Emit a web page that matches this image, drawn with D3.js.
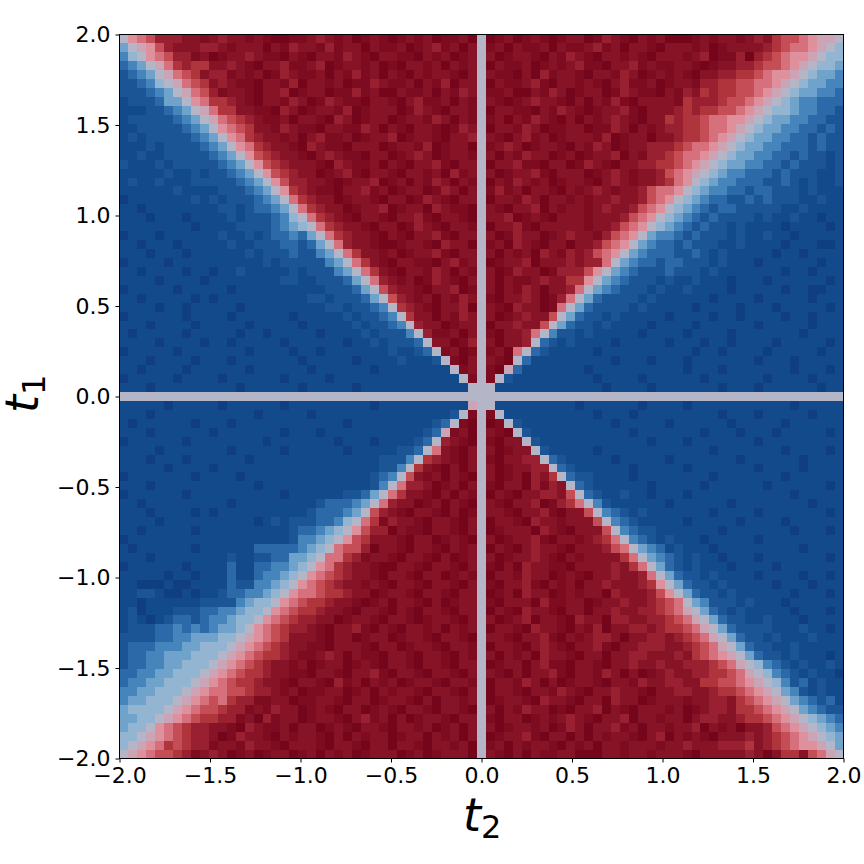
<!DOCTYPE html>
<html>
<head>
<meta charset="utf-8">
<script src="https://cdn.jsdelivr.net/npm/d3@7"></script>
<style>
  html, body { margin: 0; padding: 0; background: #fff; }
  text { font-family: "DejaVu Sans", sans-serif; fill: #000; }
</style>
</head>
<body>
<svg id="chart" width="864" height="864"></svg>
<script>
// colour levels, blue to grey to red
const levelChars = 'abcdefghijklmnopq';
const levelValues = d3.range(-8, 9);
const levelColors = ['#0f3f80', '#134a8c', '#1b5596', '#2b69a9', '#4585bc', '#6fa3cc', '#93b5d2', '#b4b5c6',
  '#cba5b5', '#df909d', '#d6707c', '#c44d56', '#b0343c', '#982030', '#861326', '#7d0c21', '#74051a'];

const tickValues = [-2, -1.5, -1, -0.5, 0, 0.5, 1, 1.5, 2];

// heatmap cells, top row first, one letter per cell
const cellRows = [
'hjklnnnoop onoopopqqp ponopoqpop qpopoqppoq h qpoqpopqpo oqpnopqopo qqqpopoopo nomllkjiih',
'fhijlnooon nopoooqopn oopnpooqop poqponpoqo h poqoppoqop ponpoqoopq ooopoqpooo onmlkkjihg',
'eghjklnnpo qpoonoppqo pqoopnopqo oppqopoqpo h oqpoopqopn opqoopopqo ooponqppnq nmlkjjihgg',
'defhikmnmm oonopqoonp ponqpoopoq pqoopoqopo h qoppoqpopo nppqoonpop poopqpoonn mllkjihggf',
'cdefhiklmo nnpopoqpno ppoqopnpoq opqopoopqo h oppqoqnpoo pqoopnoqpo popqoonnmm lkjjihgffe',
'ccdeghiklm onoppqoopn qoopoqppno ppoqopnqoo h qopponpqoo popqonppoq poopnnmmll kkjihgffee',
'cccdefhikl npoopqoonq pooqppnpoq qoppoqopno h ppoqqopnoq pooqpnoppq opnomnmmll kjihgffeed',
'bcccdffhjk mmnopqoopn oqpnoppqoo pqonppoqop h opqponoopq oqopnpqooo opmnnnmllk jihgfeeddd',
'bbbccdefhi kmmooppqno qpoopnqpoo oqpnopqoop h qooppqopno pqpoonpqoo onmnmmllkj ihggfeeddc',
'bcccccdefh iklmnoppoq oopqnoqpoo qpoopnoqop h poqopnopqo qoponopqoo mnmmlkkjji hgffeeddcc',
'bbcccccdef hjklmoopno ppqooppnoq opqoopqpno h qoopnoqppo oqppnoqopo nnmmlkkjih gffeeddcdc',
'bcbcccccde fhjkmnoopo qonppoqpoo nqpoopqoon h opqonpoqpo oopnqpooqo onmmlkjihg ffeeddcdcc',
'bbbcbccccd efhjkmnoop qnoppqoooq poopnqpooq h ponoqpoopq opnoqpoonn nmlkkjihgf feedddcdcc',
'bbcbbccccc defhjlmnoo pqonoppqoo qponoqpoop h oqopnooqpo qpoonqopnn mlkkjihgff eeddcdccbc',
'cbbbcbcccc cdefhjlmno oopqnoppoq opqoonpqoo h qoonppqooq pnopqoonnm mlkjihgffe eddcdcccbc',
'bbbbbcbbcb ccdefhjlmn ooqponpqoo pqoopoqnpo h oqpoonpqoo oqponopoon lkjihgfeed ddcdcccbbc',
'bcbbcbbbcc cccdefhjln noopqpoonq poqopnoqop h qopnopoqpo opqonopoon mkjhgfeedd dccdcbcbbc',
'bbbbbbcbbb bcccdefhjm noppqoonpo qpooqpnoqo h pnpoqoopqo ponopoonlk kjhgfeeddc ddcccbcbbb',
'abbbbbbbcb cbcccdefhk mnooqpoopq ooqpnopqoo h qoopnoqoop opoonoonlk jhgfeddccd cdcccbbcbb',
'bbabbbbbbb bccbcddefh kmnooqpoon qpooqnoppq h opqoonqopo oponoonlkj hgfedcddcc cccbbcbbbb',
'bbbabbbabb bbcbcccdeg hkmnopqoop qoonpqoopq h oonqpopqoo opooonlkjh gfedcdcccc bcbbcbbabb',
'bbbbbbbbab bbbccccdef ghkmnoopqo oqpnopqoop h qoonpqoooo opoonlkjhg fedcdccbcb bbbabbbbab',
'abbbabbbbb bcbbcbcdde dfhkmnoopq opqoonpqoo h oqpnooqpon oopnlkjhfe edcdcccbcb bcbbabbbbb',
'bbabbbabbb bbcbbcccdd cdfhknoopq qpoopqnooq h poqnopqooq oonlkjhfed dcdcccbbcb bbbabbbaab',
'bbbabbbabb bbbbcbcccd ccefhkmoop oqpoonpqoo h oqopoqnopn onlkjhfedd dccdcbcbbb bbabbabbbb',
'abbbbabbbb bbbbbbcbcc cccefhkmop qooppqonpo h qpoonqooon onnkhfeddc ddcccbcbbb abbbbbbabb',
'bbabbbbabb abbcbbbbbc bcccefhkmo pqoopnoqop h oqpnooqpnn nljhfedccc dcccbcbbbb bbbabbabbb',
'bbbbabbbba bbbbbbbbcc bbcccdfhkn opoqpnopqo h oqopponoom mjhfedcccb cbbcbbbabb babbbbbbab',
'abbbbbabbb bbabbbbbbb bbbcccdfhl noopqoonqp h oqopnoqoon khfedcccbc bbcbbbbabb bbbabbaabb',
'bbabbbbbab abbbbbbbbb bccbcccdfh lnopoqopno h pqoonoqpnk hfdccccbcb bbbbbabbbb abbbbbabbb',
'bbbbabbabb bbbabbbbbb bbbccbccde hmnopqoonq h opqnooqpkh fdccccbcbb bbbabbbbab bbabbbbbab',
'abbbbbbabb bbabbbbbba bbbbbcbccd ehmooqopno h oqponoolhf dccbcbbbbb abbbbabbab bbbabbabbb',
'bbbabbbbab bbbbabbbbb abbbbbcbcc dehnooqpoo h qoonoolhfd ccbcbbbbab bbbabbbbbb abbbbbabbb',
'babbbbbabb bbbabbabbb bbabbbbcbc ccehnppoqo h pqoonkhecc bcbbbbbabb bbabbbbabb bbbbbabbbb',
'bbbbabbbba bbabbbbbab bbbbbabbcb cccdhooqpn h oqoonhdcbc bbbbabbbbb abbbabbabb bbabbbbbab',
'abbbbbabbb bbbbabbbba bbabbbbbbb cbbcdhpoqp h poqkhdcbbb bbabbbbbbb bbbabbabbb babbbbbabb',
'bbbabbbbab bbabbbbbbb abbbbbabbb bcbbbchpqo h opqhdbbbbb bbbbabbbab bbabbbbbbb abbbabbbbb',
'bbabbbbabb bbbbabbbbb babbbbbbab bbbbbbbhpo h pqidbbbbbb babbbbbbbb bbabbbabbb bbbbabbbab',
'abbbbbabbb babbbbbbab bbbabbbbbb bbbbbbbbhp h phcbbbbbbb bbabbbbabb bbbbabbbbb babbbbabbb',
'bbbabbbbbb bbbabbbbbb abbbbbabbb bbbbbbbbbh h hbbbbbbbbb bbbabbbbab bbbbbbabbb abbbbbbabb',
'hhhhhhhhhh hhhhhhhhhh hhhhhhhhhh hhhhhhhhhh h hhhhhhhhhh hhhhhhhhhh hhhhhhhhhh hhhhhhhhhh',
'bbbbbabbbb babbbbbbab bbbbbbbbab bbbbbbbbbi h hbbbbbbbbb abbbbbbabb bbabbbbbbb bbbbabbbbb',
'bbbabbbbbb bbbbbabbbb babbbbbbbb bbbbbbbchp h phbbbbbbbb bbabbbabbb bbbbbbabbb abbbbbabbb',
'babbbbbbab bbabbbbbbb bbbbbabbbb bbbbbcdhpq h qphcbbbbbb bbbbabbbbb abbbbbbabb bbbabbbbbb',
'bbbabbbbbb abbbbbbbab bbabbbbbbb bbbbcdipoq h opqhcbbbbb bbbbbbabbb bbbbabbbab bbabbbbbab',
'abbbbbbabb bbbbbbabbb bbbbabbbab bbbcdhnopq h pqoohcbbbb bbbbbbbbab bbabbbbbbb abbbbbbbbb',
'bbbbabbbbb bbabbbbbab bbbbbabbbb bccdhkopqo h oqpoohcbbb bbabbbbbbb bbbbbabbbb bbbabbbbab',
'bbbabbbabb bbbbabbbbb bbbbbbbbbc ccehmnopqo h pqoonnhdcb bbbbabbbbb abbbbbbbab bbbbbabbbb',
'bbbbbabbbb abbbbbbbbb bbbbbbbbbc cehmopqoqo h oqpoonnhdc bbbbbbabbb bbabbbbbbb abbbbabbbb',
'abbbbbbbab bbbabbbbbb bbbbbbbbcd ehlopoqopq h oqpoqnomhd ccbbbbabbb bbbbbabbbb bbbabbbbbb',
'bbbabbbbbb bbbbbabbbb bbbbbbbbce hknnoqpoqo h pqooqnpnoh dcbbbbbbab bbbbabbbbb babbbbbbab',
'abbbbbbabb bbbbbbbbab bbbbbccdfh kmoopqoqop h qopqoonnol hdcbbcbbab bbabbbbbbb bbbbabbbbb',
'bbabbbbbbb bbabbbbbbb bbcdddefhk nooqpoqopq h opqoonqpnm khecbbbbbb abbbbbbabb bbbbbbabbb',
'bbbabbbbab abbbbbbbbb bcdddefhln opqoopqoqp h oopqoonpqo olhedcbcbb bbbbbabbbb abbbbbbbab',
'bbbbabbbbb bbbbbabcbc ccddeghkmp noopqoopqo h qoopqnoopo oolhedcbbb bbabbbbbab bbbabbbbbb',
'bbabbbbbab bbbbbbbbbc ddefghjlnn qoppqoopqo h qpoooqnopq ooolhedccb bbbbbbabbb bbbbabbbab',
'abbbbbbbbb bbbbbbbbbc eefghjlmoo opqooqpopq h oqpoonpqoo ponmkhedcb cbbbabbbbb abbbbbbbbb',
'babbbbbbab bbbbbddddd efghkllnqo opqoopqopo h qopqonoopq ooonlkhfed bcbbbabbbb bbbbbabbbb',
'bbbabbbbbb bbcbbccddf fghkkmnpoo pqoopqoqpo h oqpoonopqo poooomkhfe dcbcbbabbb abbbbbbbab',
'abbbbbbabb bbdbbddeef ghjkmnoopq qoopqoopqo h pqoqnooppq oooonomkhf dcbcbbbabb bbabbbbbbb',
'bbbbbabbab bbdbbdeefg hjklmnoopq oopqooqpop h qoopnooqpo pqoonoonkh fdccbcbbbb abbbbabbab',
'bbaaabaabb bbdcceefgh jklmnoopop qoopqoopqo h pqoonpqopo qoonooonmj hfdccbcbbb bbabbbabbb',
'bbccbaabab bcddeefghj kklmmnooqp oopqoopqoo h qpoqnooqpo pooqnooonl jhfdccbcbb bbbbabbbab',
'bbabbbbbbc cccefgghjk lmmnoopqpo qoopqoqpoo h pqoooqnppo oqpoonoonm lkhfecccbc bbbabbbbbb',
'bcabbbcccd deefgghjkl mmnoopqoop qopqoopqoo h qopqnoopqo oqoonoonnm lkihfdcbcb bbbbabbbab',
'bcbabcddcd eefgghjklm nnooqpoopq oopqpoopqo h oqponqoopq nooqnnoonn mlkihfdccb bcbbbabbbb',
'bcccddeded effghjklmn nopqoonpqo pqoopoqopo h qoopqnoopq opnqoonnon mmlkihfdcc ccbbbcbbab',
'ccccddeeff fgghijklmo oopqooqpoo qpoopqoopq h oopqoonpqo ponnoqoonn onmlkihfdc cbcbbbcbbb',
'cdddeeeffg gghijklmno oppqooopqo oqpoopqoop h qoopqonopq oonpqoonnn oonmlkihfd ccbbcbbbbb',
'cddeefffgg ghijklmmno pponoqoppq oopqoopqop h oqopoqnoop qooqoonnoo onomlkjihf dccbcbbbab',
'cddeeffggg hijklmnoop oqpooqpopq oopqoopqoo h qpooqonppq oopqoonoon oonnnmlkih gedcbcbbcb',
'ddeeffgggh ijklmmnoop pqoopqoonp qoopqoopqo h opqoqoonpq oopnoqoqpo noonnmmlki hgedcbcbba',
'deeffggghi jklmmnoopq oopqnpoqop oqpoopqoop h qoopnoqoqp oopqoopnoo nnoommllkj ihgecdbcbb',
'eeffggghij kkllmnnopo qppooqpoqo poopqoopqo h qoopqoopno pqoonoopqo onnoonmmlk jihfecbcbb',
'effggghijk lkmnnppooq ppoopqooqp oopqoqoopo h qpoopqnoop qooqnooqpo oopoonnoml kjihfedcdb',
'fgggghijkl lmnnpopnoo qpopqooqpo pqoopqoopq h oqopnooqpq oonqopqooo poqponnomm lkjihfedcc',
'ffgghijklm mnnpoqnpoo qpoopqonpo qoqpoopqoo h pqooqpopon opqoonqoop ooqonnoonm mlkjihgfed',
'fgghjklmnn oopqnoppoq ooqpopqoop qoopoqpoqo h oqpoopoqpn oqoonpoqoo poonqopoqo onlkjihgfe',
'gghijklmnn oqpnoopqop oopqoqopoo qpooqopoqo h qpoonpqooq oqopoopqon qopopqooon onmlkjihgf',
'ghijkmlmnn poopnoopqo oopqoopqoo qoopqoopoq h poqopoopqo poqoopooop oonooonnnm onmlkjjihf',
'hijkllmnpo noqpoqpooq poqopoqpoo oqpoqpoooq h opqoqoppoo qqqoopoopo oopqooooon oqommolkih'
];

const cells = cellRows.map(row => row.replace(/ /g, '').split('').map(ch => levelValues[levelChars.indexOf(ch)]));

const badRows = cells.map((row, i) => row.length === 81 ? -1 : i).filter(i => i >= 0);
if (cells.length !== 81 || badRows.length) throw new Error('bad rows ' + cells.length + ': ' + badRows.join(','));

const plotLeft = 119.5, plotRight = 843.5, plotTop = 34.5, plotBottom = 758.5;

const svg = d3.select('#chart');

const color = d3.scaleLinear().domain(levelValues).range(levelColors);
const xCell = d3.scaleBand().domain(d3.range(81)).range([plotLeft, plotRight]);
const yCell = d3.scaleBand().domain(d3.range(81)).range([plotTop, plotBottom]);

svg.append('g')
    .selectAll('g')
    .data(cells)
    .enter()
    .append('g')
    .attr('transform', (d, i) => `translate(0,${yCell(i)})`)
    .selectAll('rect')
    .data(d => d)
    .enter()
    .append('rect')
    .attr('x', (d, j) => xCell(j))
    .attr('width', xCell.bandwidth())
    .attr('height', yCell.bandwidth())
    .attr('shape-rendering', 'crispEdges')
    .attr('fill', d => color(d));

const x = d3.scaleLinear().domain([-2, 2]).range([plotLeft, plotRight]);
const y = d3.scaleLinear().domain([-2, 2]).range([plotBottom, plotTop]);
const tickText = d => d3.format('.1f')(d).replace('-', '\u2212');

const xAxis = svg.append('g')
    .attr('transform', `translate(0,${plotBottom})`)
    .call(d3.axisBottom(x).tickValues(tickValues).tickFormat(tickText).tickSize(4).tickPadding(5));
const yAxis = svg.append('g')
    .attr('transform', `translate(${plotLeft},0)`)
    .call(d3.axisLeft(y).tickValues(tickValues).tickFormat(tickText).tickSize(4).tickPadding(5));

[xAxis, yAxis].forEach(axis => {
    axis.select('.domain').remove();
    axis.selectAll('text').style('font-family', '"DejaVu Sans", sans-serif').style('font-size', '22px').attr('fill', '#000');
    axis.selectAll('line').attr('stroke', '#000');
});

svg.append('rect')
    .attr('x', plotLeft)
    .attr('y', plotTop)
    .attr('width', plotRight - plotLeft)
    .attr('height', plotBottom - plotTop)
    .attr('fill', 'none')
    .attr('stroke', '#000');

function axisLabel(g, sub) {
    const label = g.append('text').style('font-size', '46px');
    label.append('tspan').style('font-style', 'oblique').text('t');
    label.append('tspan').attr('dy', 7).style('font-size', '32px').text(sub);
    return label;
}

axisLabel(svg.append('g').attr('transform', 'translate(463,831)'), '2');
axisLabel(svg.append('g').attr('transform', 'translate(38,413) rotate(-90)'), '1');
</script>
</body>
</html>
